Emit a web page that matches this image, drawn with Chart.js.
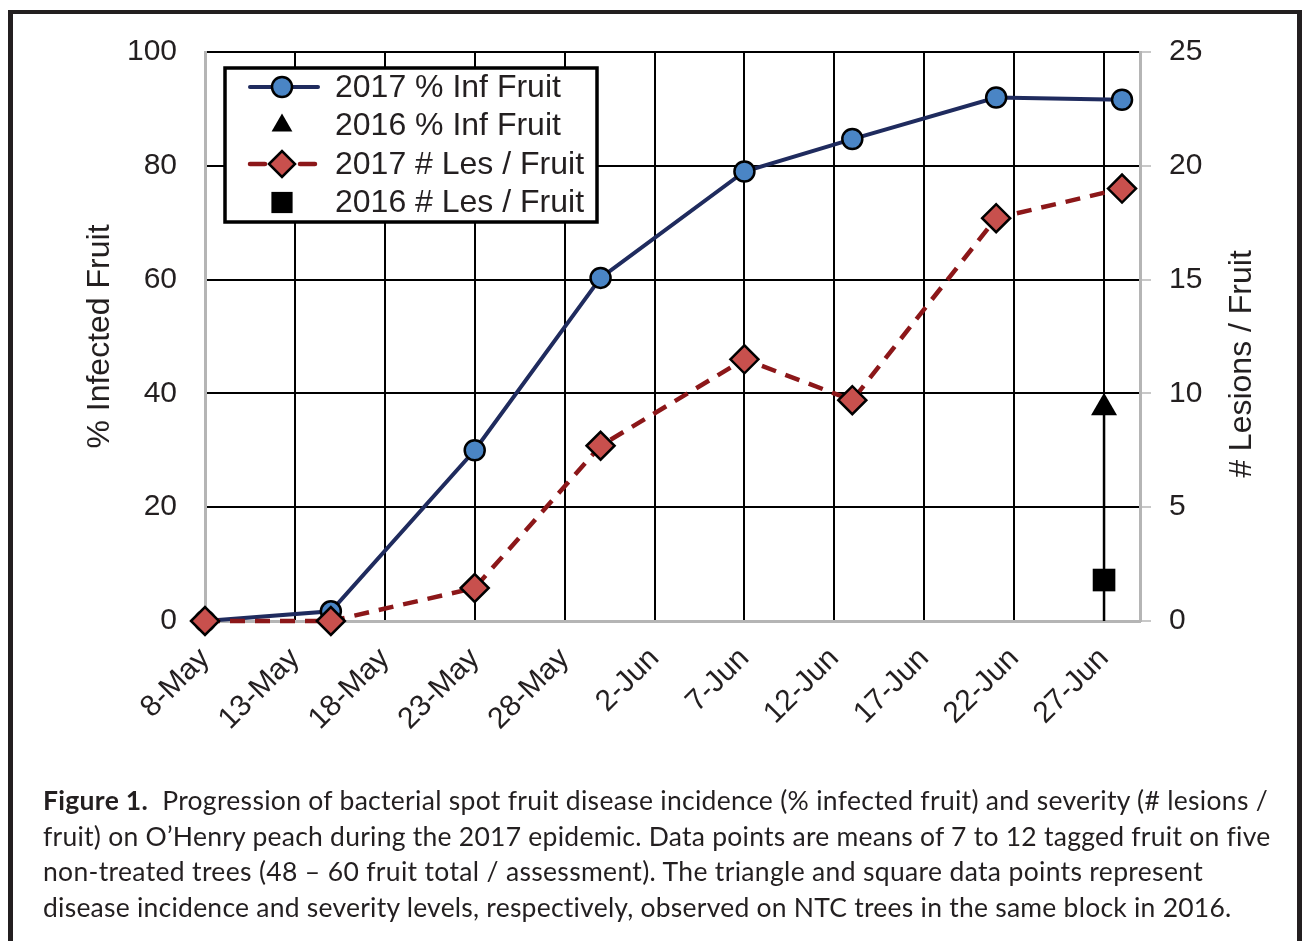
<!DOCTYPE html>
<html>
<head>
<meta charset="utf-8">
<script src="https://cdn.jsdelivr.net/npm/chart.js@4"></script>
<style>
  body { margin: 0; background: #fff; width: 1302px; height: 941px; overflow: hidden; position: relative; }
  #frame { position: absolute; left: 8px; top: 10px; width: 1294px; height: 960px; box-sizing: border-box;
           border: 5px solid #231f20; border-top-width: 4px; border-bottom: none; pointer-events: none; }
  #chart { position: absolute; left: 0; top: 0; }
  #caption { position: absolute; left: 43px; top: 783px; font-family: Lato, "Open Sans", sans-serif;
             font-size: 26.5px; line-height: 35.5px; color: #231f20; white-space: nowrap; }
  #caption span { display: block; }
</style>
</head>
<body>
<canvas id="chart" width="1302" height="770"></canvas>
<div id="frame"></div>
<div id="caption">
  <span data-w="1225"><b>Figure 1.</b>&nbsp; Progression of bacterial spot fruit disease incidence (% infected fruit) and severity (# lesions /</span>
  <span data-w="1227">fruit) on O’Henry peach during the 2017 epidemic. Data points are means of 7 to 12 tagged fruit on five</span>
  <span data-w="1160">non-treated trees (48 – 60 fruit total / assessment). The triangle and square data points represent</span>
  <span data-w="1189">disease incidence and severity levels, respectively, observed on NTC trees in the same block in 2016.</span>
</div>
<script>
// x axis: days after 8-May
const tickLabels = ["8-May", "13-May", "18-May", "23-May", "28-May", "2-Jun", "7-Jun", "12-Jun", "17-Jun", "22-Jun", "27-Jun"];
const sampleDays = [0, 7, 15, 22, 30, 36, 44, 51];
const infected2017 = [0, 1.7, 30, 60.3, 79, 84.7, 92, 91.6];
const lesions2017 = [0, 0, 1.45, 7.7, 11.5, 9.7, 17.7, 19.0];
const day2016 = 50;
const infected2016 = 37.5;
const lesions2016 = 1.8;

const font = "Arial, 'Liberation Sans', sans-serif";

// stretch caption lines to the widths of the original
document.querySelectorAll("#caption span").forEach((el) => {
  el.style.display = "inline-block";
  const w = el.getBoundingClientRect().width;
  const n = el.textContent.length;
  el.style.letterSpacing = ((+el.dataset.w - w) / n).toFixed(3) + "px";
  el.style.display = "block";
});

function pts(days, vals) {
  return days.map((d, i) => ({ x: d, y: vals[i] }));
}

const legendRows = [
  { text: "2017 % Inf Fruit", ds: 1, line: true },
  { text: "2016 % Inf Fruit", ds: 2, line: false },
  { text: "2017 # Les / Fruit", ds: 0, line: true },
  { text: "2016 # Les / Fruit", ds: 3, line: false },
];

// legend box inside the plot + right axis title reading upward
const extras = {
  id: "extras",
  afterDatasetsDraw(chart) {
    const ctx = chart.ctx;
    const ca = chart.chartArea;
    const bx = ca.left + 20, by = ca.top + 16, bw = 372, bh = 154;
    ctx.save();
    ctx.fillStyle = "#fff";
    ctx.fillRect(bx, by, bw, bh);
    ctx.lineWidth = 3.5;
    ctx.strokeStyle = "#000";
    ctx.strokeRect(bx, by, bw, bh);
    legendRows.forEach((row, i) => {
      const ds = chart.data.datasets[row.ds];
      const y = by + 19 + i * 38.5;
      const mx = bx + 57;
      if (row.line) {
        ctx.save();
        ctx.strokeStyle = ds.borderColor;
        ctx.lineWidth = ds.borderWidth;
        ctx.lineCap = "round";
        ctx.setLineDash(ds.borderDash || []);
        ctx.beginPath();
        ctx.moveTo(bx + 25, y);
        ctx.lineTo(bx + 93, y);
        ctx.stroke();
        ctx.restore();
      }
      ctx.fillStyle = ds.pointBackgroundColor;
      ctx.strokeStyle = ds.pointBorderColor;
      ctx.lineWidth = ds.pointBorderWidth;
      Chart.helpers.drawPoint(ctx, {
        pointStyle: ds.pointStyle,
        radius: ds.legendRadius,
        rotation: 0,
        borderWidth: ds.pointBorderWidth,
      }, mx, y);
      ctx.fillStyle = "#231f20";
      ctx.font = "32px " + font;
      ctx.textBaseline = "middle";
      ctx.textAlign = "left";
      ctx.fillText(row.text, bx + 110, y + 1);
    });
    // right axis title
    ctx.translate(1242, 364);
    ctx.rotate(-Math.PI / 2);
    ctx.textAlign = "center";
    ctx.textBaseline = "middle";
    ctx.fillStyle = "#231f20";
    ctx.font = "32px " + font;
    ctx.fillText("# Lesions / Fruit", 0, 0);
    ctx.restore();
  },
};

new Chart(document.getElementById("chart"), {
  type: "line",
  data: {
    datasets: [
      {
        label: "2017 # Les / Fruit",
        data: pts(sampleDays, lesions2017),
        yAxisID: "y1",
        borderColor: "#8c1719",
        borderWidth: 4.5,
        borderDash: [15, 10],
        pointStyle: "rectRot",
        pointRadius: 14,
        legendRadius: 13,
        pointBackgroundColor: "#c8504d",
        pointBorderColor: "#000",
        pointBorderWidth: 2.5,
        clip: false,
        order: 0,
      },
      {
        label: "2017 % Inf Fruit",
        data: pts(sampleDays, infected2017),
        yAxisID: "y",
        borderColor: "#1f2b5e",
        borderWidth: 4,
        pointStyle: "circle",
        pointRadius: 10,
        legendRadius: 10,
        pointBackgroundColor: "#4a85c5",
        pointBorderColor: "#000",
        pointBorderWidth: 2.5,
        clip: false,
        order: 1,
      },
      {
        label: "2016 % Inf Fruit",
        data: [{ x: day2016, y: infected2016 }],
        yAxisID: "y",
        showLine: false,
        pointStyle: "triangle",
        pointRadius: 15,
        legendRadius: 12,
        pointBackgroundColor: "#000",
        pointBorderColor: "#000",
        pointBorderWidth: 0,
        order: 2,
      },
      {
        label: "2016 # Les / Fruit",
        data: [{ x: day2016, y: lesions2016 }],
        yAxisID: "y1",
        showLine: false,
        pointStyle: "rect",
        pointRadius: 16,
        legendRadius: 15,
        pointBackgroundColor: "#000",
        pointBorderColor: "#000",
        pointBorderWidth: 0,
        order: 2,
      },
      {
        label: "drop",
        data: [{ x: day2016, y: infected2016 }, { x: day2016, y: 0 }],
        yAxisID: "y",
        borderColor: "#000",
        borderWidth: 2.5,
        pointRadius: 0,
        order: 4,
      },
    ],
  },
  options: {
    responsive: false,
    animation: false,
    layout: { padding: { top: 52, left: 0, right: 0, bottom: 0 } },
    plugins: { legend: { display: false }, tooltip: { enabled: false } },
    scales: {
      x: {
        type: "linear",
        min: 0,
        max: 52,
        afterBuildTicks(scale) {
          scale.ticks = tickLabels.map((_, i) => ({ value: i * 5 }));
        },
        afterFit(scale) { scale.height = 149; },
        grid: { color: "#000", lineWidth: 2, drawTicks: false },
        border: { color: "#b5b5b5", width: 3 },
        ticks: {
          color: "#231f20",
          font: { size: 30, family: font },
          minRotation: 45,
          maxRotation: 45,
          padding: 20,
          callback: (v) => tickLabels[Math.round(v / 5)],
        },
      },
      y: {
        position: "left",
        min: 0,
        max: 100,
        afterFit(scale) { scale.width = 205; },
        grid: { color: "#000", lineWidth: 2, drawTicks: false },
        border: { color: "#b5b5b5", width: 3 },
        ticks: { stepSize: 20, color: "#231f20", font: { size: 30, family: font }, padding: 28 },
        title: {
          display: true,
          text: "% Infected Fruit",
          color: "#231f20",
          font: { size: 32, family: font },
          padding: { top: 81, bottom: 0 },
        },
      },
      y1: {
        position: "right",
        min: 0,
        max: 25,
        afterFit(scale) { scale.width = 162; },
        grid: { drawOnChartArea: false, color: "#c8c8c8", lineWidth: 2, tickLength: 11 },
        border: { color: "#b5b5b5", width: 3 },
        ticks: { stepSize: 5, color: "#231f20", font: { size: 30, family: font }, padding: 18 },
      },
    },
  },
  plugins: [extras],
});
</script>
</body>
</html>
